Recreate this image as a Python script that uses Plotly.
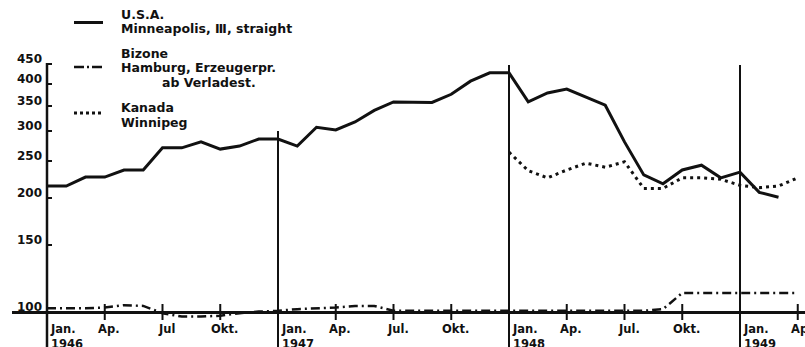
import math
import plotly.graph_objects as go

# ---- data: monthly price indices, first value = January of the start year ----
MONTH0 = 1946  # month index 0 = January 1946

usa_start = 0
usa_values = [215, 215, 227, 227, 237, 237, 271, 271, 281, 269, 274, 286,
              286, 274, 307, 302, 317, 340, 358, 358, 357, 375, 406, 427,
              427, 358, 378, 387, 369, 351, 281, 230, 218, 237, 244, 226,
              234, 207, 201]

bizone_start = 0
bizone_values = [102.5, 102.5, 102.5, 103, 104.5, 104, 99.5, 97.5, 97.5, 98, 99.5, 100.5,
                 101, 102, 102.5, 103, 104, 104, 101, 101, 101, 101, 101, 101,
                 101, 101, 101, 101, 101, 101, 101, 101, 102, 112.5, 112.5, 112.5,
                 112.5, 112.5, 112.5, 112.5]

kanada_start = 24
kanada_values = [264, 236, 226, 237, 247, 241, 249, 212, 212, 226, 226, 224,
                 216, 213, 215, 226]

y_tick_values = [100, 150, 200, 250, 300, 350, 400, 450]
y_tick_text = ["100", "150", "200", "250", "300", "350", "400", "450"]

x_tick_months = [0, 3, 6, 9, 12, 15, 18, 21, 24, 27, 30, 33, 36, 39]
x_tick_text = ["Jan.<br>1946", "Ap.", "Jul", "Okt.",
               "Jan.<br>1947", "Ap.", "Jul.", "Okt.",
               "Jan.<br>1948", "Ap.", "Jul.", "Okt.",
               "Jan.<br>1949", "Ap."]
year_starts = [12, 24, 36]

# ---- geometry of the drawing area ----
W, H = 805, 347
PL, PT, PW, PH = 47, 60, 758, 270
PX_PER_MONTH = 19.25
X_RANGE = [0, PW / PX_PER_MONTH]
PX_PER_DECADE = 380.0
Y_LOG_MIN = 2 - 17.6 / PX_PER_DECADE
Y_LOG_MAX = 2 + 252.4 / PX_PER_DECADE

FONT = "DejaVu Sans"
INK = "#111111"


def month_to_paper(m):
    return (m - X_RANGE[0]) / (X_RANGE[1] - X_RANGE[0])


def value_to_paper(v):
    return (math.log10(v) - Y_LOG_MIN) / (Y_LOG_MAX - Y_LOG_MIN)


def px_x(p):
    return (p - PL) / PW


def px_y(p):
    return (PT + PH - p) / PH


def months(start, values):
    return [start + i for i in range(len(values))]


fig = go.Figure()

fig.add_trace(go.Scatter(
    x=months(bizone_start, bizone_values), y=bizone_values, mode="lines",
    line=dict(color=INK, width=2.5, dash="9px,4px,2px,4px"),
    hoverinfo="skip"))
fig.add_trace(go.Scatter(
    x=months(kanada_start, kanada_values), y=kanada_values, mode="lines",
    line=dict(color=INK, width=3, dash="3px,4px"),
    hoverinfo="skip"))
fig.add_trace(go.Scatter(
    x=months(usa_start, usa_values), y=usa_values, mode="lines",
    line=dict(color=INK, width=3),
    hoverinfo="skip"))

shapes = []
# baseline at index 100, running a little past the value axis on the left
shapes.append(dict(type="line", xref="paper", yref="paper",
                   x0=px_x(12), x1=1, y0=value_to_paper(100), y1=value_to_paper(100),
                   line=dict(color=INK, width=3)))
# value axis
shapes.append(dict(type="line", xref="paper", yref="paper",
                   x0=0, x1=0, y0=px_y(H), y1=px_y(63),
                   line=dict(color=INK, width=2.5)))
# year separators
for m in year_starts:
    top = px_y(131) if m == 12 else px_y(65)
    shapes.append(dict(type="line", xref="paper", yref="paper",
                       x0=month_to_paper(m), x1=month_to_paper(m),
                       y0=px_y(H), y1=top,
                       line=dict(color=INK, width=2)))
# quarter ticks on the baseline
for m in x_tick_months:
    if m % 12 == 0:
        continue
    shapes.append(dict(type="line", xref="paper", yref="paper",
                       x0=month_to_paper(m), x1=month_to_paper(m),
                       y0=px_y(320), y1=px_y(304),
                       line=dict(color=INK, width=2)))

# legend keys
legend_keys = [(22.5, dict(color=INK, width=3)),
               (67, dict(color=INK, width=2.5, dash="10px,3px,2px,3px")),
               (113, dict(color=INK, width=3, dash="3px,3px"))]
for ky, ln in legend_keys:
    shapes.append(dict(type="line", xref="paper", yref="paper",
                       x0=px_x(74), x1=px_x(103), y0=px_y(ky), y1=px_y(ky),
                       line=ln))

annotations = []


def text(s, x, y, xanchor="left", yanchor="middle", size=12.5):
    annotations.append(dict(text=s, x=x, y=y, xref="paper", yref="paper",
                            xanchor=xanchor, yanchor=yanchor, showarrow=False,
                            align="left",
                            font=dict(family=FONT, size=size, color=INK, weight="bold")))


# legend text
text("U.S.A.", px_x(119), px_y(14))
text("Minneapolis, Ⅲ, straight", px_x(119), px_y(28))
text("Bizone", px_x(119), px_y(53))
text("Hamburg, Erzeugerpr.", px_x(119), px_y(67.5))
text("ab Verladest.", px_x(160), px_y(82))
text("Kanada", px_x(119), px_y(107))
text("Winnipeg", px_x(119), px_y(122))

# heading, mostly above the top edge
text("(Index 100 = Durchschn. 1936-1939)", px_x(300), px_y(2), yanchor="bottom", size=13)

# value-axis labels
for v, t in zip(y_tick_values, y_tick_text):
    annotations.append(dict(text=t, x=px_x(44), y=value_to_paper(v), yshift=5,
                            xref="paper", yref="paper", xanchor="right", yanchor="middle",
                            showarrow=False,
                            font=dict(family=FONT, size=12, color=INK, weight="bold")))

# time-axis labels
for m, t in zip(x_tick_months, x_tick_text):
    if m % 12 == 0:
        annotations.append(dict(text=t, x=month_to_paper(m), y=px_y(320), xshift=1,
                                xref="paper", yref="paper", xanchor="left", yanchor="top",
                                align="left", showarrow=False,
                                font=dict(family=FONT, size=11.5, color=INK, weight="bold")))
    else:
        annotations.append(dict(text=t, x=month_to_paper(m), y=px_y(320), xshift=4,
                                xref="paper", yref="paper", xanchor="center", yanchor="top",
                                showarrow=False,
                                font=dict(family=FONT, size=11.5, color=INK, weight="bold")))

fig.update_layout(
    width=W, height=H,
    margin=dict(l=PL, r=W - PL - PW, t=PT, b=H - PT - PH, pad=0),
    paper_bgcolor="white", plot_bgcolor="white",
    showlegend=False,
    xaxis=dict(range=X_RANGE, showgrid=False, zeroline=False, showline=False,
               showticklabels=False, ticks=""),
    yaxis=dict(type="log", range=[Y_LOG_MIN, Y_LOG_MAX], showgrid=False, zeroline=False,
               showline=False, showticklabels=False, ticks="inside", ticklen=5,
               tickwidth=2, tickcolor=INK, tickvals=y_tick_values),
    shapes=shapes,
    annotations=annotations,
)

fig.write_html("out.html")
